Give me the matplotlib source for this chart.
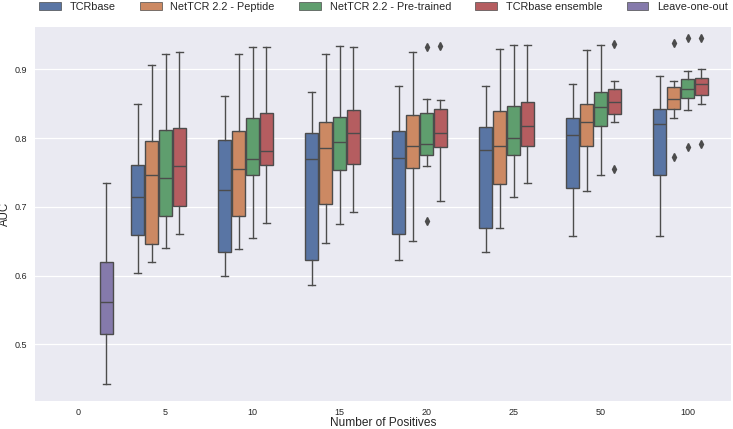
import colorsys
import matplotlib
matplotlib.use("Agg")
import matplotlib.pyplot as plt
import matplotlib.colors as mcolors
import numpy as np

plt.rcParams['font.family'] = ['Liberation Sans', 'DejaVu Sans']

categories = ['0', '5', '10', '15', '20', '25', '50', '100']
models = ['TCRbase', 'NetTCR 2.2 - Peptide', 'NetTCR 2.2 - Pre-trained',
          'TCRbase ensemble', 'Leave-one-out']

# Box statistics per model for categories 5..100 (index 1..7)
tcrbase_whislo = [0.604, 0.599, 0.586, 0.622, 0.634, 0.657, 0.658]
tcrbase_q1     = [0.659, 0.634, 0.623, 0.660, 0.669, 0.727, 0.747]
tcrbase_med    = [0.715, 0.725, 0.770, 0.771, 0.783, 0.804, 0.821]
tcrbase_q3     = [0.761, 0.797, 0.807, 0.810, 0.816, 0.829, 0.842]
tcrbase_whishi = [0.849, 0.861, 0.867, 0.876, 0.876, 0.878, 0.891]
tcrbase_fliers = [[], [], [], [], [], [], []]

pep_whislo = [0.620, 0.638, 0.647, 0.651, 0.669, 0.723, 0.829]
pep_q1     = [0.646, 0.687, 0.704, 0.756, 0.733, 0.789, 0.843]
pep_med    = [0.747, 0.755, 0.785, 0.789, 0.788, 0.824, 0.857]
pep_q3     = [0.796, 0.811, 0.824, 0.833, 0.840, 0.850, 0.875]
pep_whishi = [0.907, 0.923, 0.922, 0.925, 0.930, 0.928, 0.883]
pep_fliers = [[], [], [], [], [], [], [0.939, 0.772]]

pre_whislo = [0.640, 0.655, 0.675, 0.760, 0.714, 0.746, 0.841]
pre_q1     = [0.686, 0.746, 0.753, 0.776, 0.775, 0.818, 0.858]
pre_med    = [0.742, 0.770, 0.794, 0.792, 0.800, 0.845, 0.872]
pre_q3     = [0.812, 0.829, 0.830, 0.836, 0.846, 0.867, 0.886]
pre_whishi = [0.922, 0.932, 0.934, 0.857, 0.936, 0.936, 0.897]
pre_fliers = [[], [], [], [0.932, 0.679], [], [], [0.945, 0.787]]

ens_whislo = [0.661, 0.676, 0.693, 0.709, 0.734, 0.823, 0.849]
ens_q1     = [0.701, 0.761, 0.763, 0.787, 0.789, 0.835, 0.863]
ens_med    = [0.759, 0.781, 0.807, 0.807, 0.818, 0.852, 0.878]
ens_q3     = [0.815, 0.837, 0.841, 0.842, 0.852, 0.871, 0.888]
ens_whishi = [0.925, 0.933, 0.933, 0.856, 0.936, 0.883, 0.900]
ens_fliers = [[], [], [], [0.934], [], [0.937, 0.755], [0.945, 0.792]]

# Leave-one-out only at category 0
loo_whislo = [0.443]
loo_q1     = [0.515]
loo_med    = [0.562]
loo_q3     = [0.620]
loo_whishi = [0.735]
loo_fliers = [[]]

model_stats = [
    (list(range(1, 8)), tcrbase_whislo, tcrbase_q1, tcrbase_med, tcrbase_q3, tcrbase_whishi, tcrbase_fliers),
    (list(range(1, 8)), pep_whislo, pep_q1, pep_med, pep_q3, pep_whishi, pep_fliers),
    (list(range(1, 8)), pre_whislo, pre_q1, pre_med, pre_q3, pre_whishi, pre_fliers),
    (list(range(1, 8)), ens_whislo, ens_q1, ens_med, ens_q3, ens_whishi, ens_fliers),
    ([0], loo_whislo, loo_q1, loo_med, loo_q3, loo_whishi, loo_fliers),
]

deep = ['#4C72B0', '#DD8452', '#55A868', '#C44E52', '#8172B3']

def desaturate(c, prop=0.75):
    r, g, b = mcolors.to_rgb(c)
    h, l, s = colorsys.rgb_to_hls(r, g, b)
    return colorsys.hls_to_rgb(h, l, s * prop)

colors = [desaturate(c) for c in deep]
lum = min(colorsys.rgb_to_hls(*c)[1] for c in colors) * 0.6
gray = mcolors.rgb2hex((lum, lum, lum))

W, H = 733, 429
fig = plt.figure(figsize=(W / 100, H / 100), dpi=100)
ax = fig.add_axes([35 / W, 1 - 400.7 / H, 696 / W, (400.7 - 27.4) / H])
ax.set_facecolor('#EAEAF2')
for s in ax.spines.values():
    s.set_visible(False)

n = len(models)
width = 0.8
each = width / n
offsets = np.linspace(0, width - each, n)
offsets -= offsets.mean()
bw = each * 0.98
lw = 1.0

for j, (cats, wlo, q1, med, q3, whi, fl) in enumerate(model_stats):
    stats = []
    pos = []
    for k, ci in enumerate(cats):
        stats.append(dict(whislo=wlo[k], q1=q1[k], med=med[k], q3=q3[k],
                          whishi=whi[k], fliers=fl[k]))
        pos.append(ci + offsets[j])
    ax.bxp(stats, positions=pos, widths=bw, patch_artist=True,
           showfliers=True, manage_ticks=False,
           boxprops=dict(facecolor=colors[j], edgecolor=gray, linewidth=lw),
           medianprops=dict(color=gray, linewidth=lw),
           whiskerprops=dict(color=gray, linewidth=lw),
           capprops=dict(color=gray, linewidth=lw),
           flierprops=dict(marker='d', markerfacecolor=gray,
                           markeredgecolor=gray, markersize=3.6,
                           linestyle='none'))

ax.set_xlim(-0.5, len(categories) - 0.5)
ax.set_ylim(0.418, 0.961)
ax.set_xticks(range(len(categories)))
ax.set_xticklabels(categories)
ax.set_yticks([0.5, 0.6, 0.7, 0.8, 0.9])
ax.set_yticklabels(['0.5', '0.6', '0.7', '0.8', '0.9'])
ax.tick_params(axis='both', length=0, labelsize=6.5, colors='#262626')
ax.tick_params(axis='y', pad=5.8)
ax.tick_params(axis='x', pad=5.0)
ax.yaxis.grid(True, color='white', linewidth=0.9)
ax.xaxis.grid(False)
ax.set_axisbelow(True)
ax.set_xlabel('Number of Positives', fontsize=8.6, color='#262626')
ax.set_ylabel('AUC', fontsize=8.3, color='#262626')
ax.xaxis.set_label_coords(0.5, (400.7 - 416.5) / (400.7 - 27.4))
ax.yaxis.set_label_coords((10.5 - 35) / 696, 0.5)

handles = [plt.Rectangle((0, 0), 0, 0, facecolor=colors[j], edgecolor=gray,
                         linewidth=lw / 2, label=models[j]) for j in range(n)]
fig.legend(handles=handles, loc='center left', bbox_to_anchor=(39 / W, 1 - 7 / H),
           ncol=5, frameon=False, fontsize=7.85, borderpad=0, borderaxespad=0,
           columnspacing=2.23, labelcolor='#262626')

fig.savefig('out.png', dpi=100, facecolor='white')
